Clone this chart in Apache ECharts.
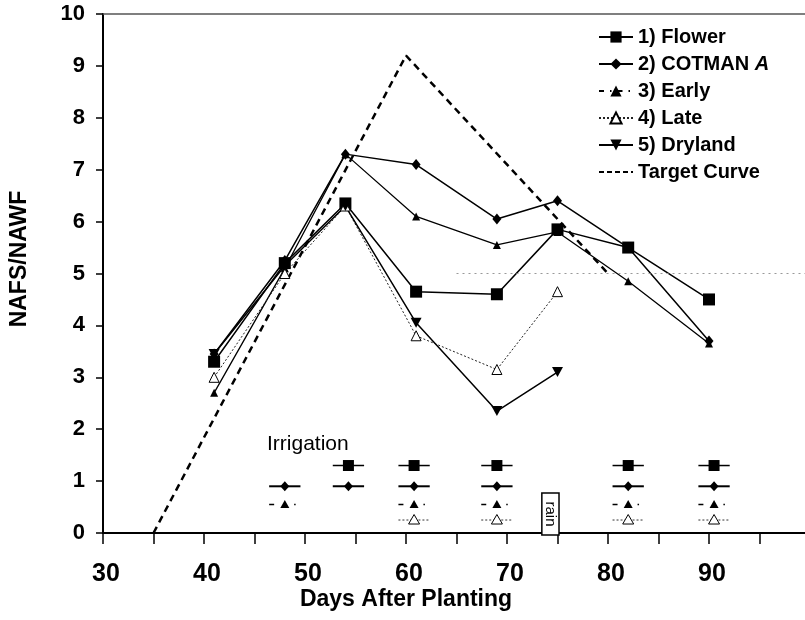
<!DOCTYPE html>
<html>
<head>
<meta charset="utf-8">
<script src="https://cdn.jsdelivr.net/npm/echarts@6/dist/echarts.min.js"></script>
<style>
  html, body { margin: 0; padding: 0; background: #fff; }
  #chart { width: 805px; height: 620px; }
</style>
</head>
<body>
<div id="chart"></div>
<script>
// Sampling days (days after planting) and NAFS/NAWF per treatment
const days = [41, 48, 54, 61, 69, 75, 82, 90];
const flower = [3.3, 5.2, 6.35, 4.65, 4.6, 5.85, 5.5, 4.5];
const cotman = [3.45, 5.25, 7.3, 7.1, 6.05, 6.4, 5.5, 3.7];
const early = [2.7, 5.1, 7.3, 6.1, 5.55, 5.8, 4.85, 3.65];
const late = [3.0, 5.0, 6.3, 3.8, 3.15, 4.65];
const dryland = [3.45, 5.15, 6.3, 4.05, 2.35, 3.1];

// Target curve vertices
const targetDays = [35, 60, 80];
const targetValues = [0, 9.2, 5.0];

// Reference level drawn as a faint dotted line
const refLevel = 5;
const refFrom = 65;

// Irrigation events per treatment, drawn as rows near the bottom
const irrigFlower = [54.3, 60.8, 69, 82, 90.5];
const irrigCotman = [48, 54.3, 60.8, 69, 82, 90.5];
const irrigEarly = [48, 60.8, 69, 82, 90.5];
const irrigLate = [60.8, 69, 82, 90.5];
const irrigRows = [1.3, 0.9, 0.55, 0.25];

// Rain event
const rainDay = 74.3;
const rainTop = 0.77;

// X tick labels
const xTickLabels = [30, 40, 50, 60, 70, 80, 90];

const names = ['1) Flower', '2) COTMAN A', '3) Early', '4) Late', '5) Dryland', 'Target Curve'];

const pair = (xs, ys) => ys.map((v, i) => [xs[i], v]);

const irrigData = [];
[irrigFlower, irrigCotman, irrigEarly, irrigLate].forEach((row, k) => {
  row.forEach(d => irrigData.push([d, irrigRows[k], k]));
});

const FONT = "'Liberation Sans', Arial, sans-serif";
const HALF_SPAN = 1.55; // half length of an irrigation tick, in days

function markerShape(kind, cx, cy) {
  if (kind === 0) {
    return { type: 'rect', shape: { x: cx - 5.5, y: cy - 5.5, width: 11, height: 11 },
             style: { fill: '#000' } };
  }
  if (kind === 1) {
    return { type: 'polygon', shape: { points: [[cx, cy - 5], [cx + 4.5, cy], [cx, cy + 5], [cx - 4.5, cy]] },
             style: { fill: '#000' } };
  }
  if (kind === 2) {
    return { type: 'polygon', shape: { points: [[cx, cy - 4.5], [cx + 4.5, cy + 3.5], [cx - 4.5, cy + 3.5]] },
             style: { fill: '#000' } };
  }
  return { type: 'polygon', shape: { points: [[cx, cy - 5.5], [cx + 5.5, cy + 4], [cx - 5.5, cy + 4]] },
           style: { fill: '#fff', stroke: '#000', lineWidth: 1 } };
}

const rowLine = [
  { lineWidth: 1.5, lineDash: null, stroke: '#000' },
  { lineWidth: 2, lineDash: null, stroke: '#000' },
  { lineWidth: 1.5, lineDash: [5, 20, 1.5, 10], stroke: '#000' },
  { lineWidth: 1, lineDash: [2, 2], stroke: '#333' }
];

function irrigationItem(params, api) {
  const d = api.value(0), lv = api.value(1), k = api.value(2);
  const c = api.coord([d, lv]);
  const a = api.coord([d - HALF_SPAN, lv]);
  const b = api.coord([d + HALF_SPAN, lv]);
  return {
    type: 'group',
    children: [
      { type: 'line', shape: { x1: a[0], y1: a[1], x2: b[0], y2: b[1] },
        style: { stroke: rowLine[k].stroke, lineWidth: rowLine[k].lineWidth, lineDash: rowLine[k].lineDash } },
      markerShape(k, c[0], c[1])
    ]
  };
}

function rainItem(params, api) {
  const d = api.value(0), top = api.value(1);
  const tl = api.coord([d - 0.85, top]);
  const br = api.coord([d + 0.85, 0]);
  const cx = (tl[0] + br[0]) / 2, cy = (tl[1] + br[1]) / 2;
  return {
    type: 'group',
    children: [
      { type: 'rect', shape: { x: tl[0], y: tl[1], width: br[0] - tl[0], height: br[1] - tl[1] + 2 },
        style: { fill: '#fff', stroke: '#000', lineWidth: 1.5 } },
      { type: 'text', x: cx, y: cy + 1, rotation: -Math.PI / 2,
        style: { text: 'rain', font: "15px " + FONT, fill: '#000', align: 'center', verticalAlign: 'middle' } }
    ]
  };
}

const lineBase = { type: 'line', showSymbol: true, animation: false, z: 3 };

const chart = echarts.init(document.getElementById('chart'), null, { renderer: 'canvas' });

chart.setOption({
  animation: false,
  backgroundColor: '#fff',
  grid: { left: 103, top: 14, width: 707, height: 519, containLabel: false, outerBoundsMode: 'none' },
  legend: {
    orient: 'vertical',
    left: 593,
    top: 22,
    itemWidth: 34,
    itemHeight: 14,
    itemGap: 7,
    data: [
      { name: names[0] },
      { name: names[1] },
      { name: names[2], lineStyle: { type: [5, 6, 1.5, 6] } },
      { name: names[3] },
      { name: names[4] },
      { name: names[5], itemStyle: { opacity: 0 }, lineStyle: { type: [5, 3], width: 2 } }
    ],
    formatter: n => n === names[1] ? '2) COTMAN {i|A}' : n,
    textStyle: {
      fontFamily: FONT, fontWeight: 'bold', fontSize: 20, color: '#000', lineHeight: 20,
      rich: { i: { fontFamily: FONT, fontWeight: 'bold', fontStyle: 'italic', fontSize: 20, color: '#000' } }
    }
  },
  xAxis: [
    {
      type: 'value', min: 30, max: 100, interval: 5,
      axisLine: { show: true, onZero: false, lineStyle: { color: '#000', width: 2 } },
      axisTick: { show: true, length: 11, lineStyle: { color: '#000', width: 1.5 } },
      axisLabel: {
        formatter: v => xTickLabels.indexOf(v) >= 0 ? String(v) : '',
        fontFamily: FONT, fontWeight: 'bold', fontSize: 25, color: '#000', margin: 29,
        padding: [0, 0, 0, 6]
      },
      splitLine: { show: false }
    },
    {
      type: 'value', position: 'top', min: 30, max: 100,
      axisLine: { show: true, onZero: false, lineStyle: { color: '#555', width: 1.5 } },
      axisTick: { show: false }, axisLabel: { show: false }, splitLine: { show: false }
    }
  ],
  yAxis: {
    type: 'value', min: 0, max: 10, interval: 1,
    axisLine: { show: true, onZero: false, lineStyle: { color: '#000', width: 2 } },
    axisTick: { show: true, length: 7, lineStyle: { color: '#000', width: 1.5 } },
    axisLabel: { fontFamily: FONT, fontWeight: 'bold', fontSize: 22, color: '#000', margin: 18 },
    splitLine: { show: false }
  },
  graphic: [
    { type: 'text', x: 20, y: 259, rotation: Math.PI / 2,
      style: { text: 'NAFS/NAWF', font: "bold 23px " + FONT, fill: '#000', align: 'center', verticalAlign: 'middle' } },
    { type: 'text', x: 406, y: 600,
      style: { text: 'Days After Planting', font: "bold 23px " + FONT, fill: '#000', align: 'center', verticalAlign: 'middle' } },
    { type: 'text', x: 267, y: 444,
      style: { text: 'Irrigation', font: "21px " + FONT, fill: '#000', align: 'left', verticalAlign: 'middle' } }
  ],
  series: [
    Object.assign({}, lineBase, {
      name: names[0], data: pair(days, flower),
      symbol: 'rect', symbolSize: 12,
      lineStyle: { color: '#000', width: 1.5 }, itemStyle: { color: '#000' }
    }),
    Object.assign({}, lineBase, {
      name: names[1], data: pair(days, cotman),
      symbol: 'diamond', symbolSize: [9, 11],
      lineStyle: { color: '#000', width: 1.5 }, itemStyle: { color: '#000' }
    }),
    Object.assign({}, lineBase, {
      name: names[2], data: pair(days, early),
      symbol: 'triangle', symbolSize: 8,
      lineStyle: { color: '#000', width: 1.3 }, itemStyle: { color: '#000' }
    }),
    Object.assign({}, lineBase, {
      name: names[3], data: pair(days, late),
      symbol: 'triangle', symbolSize: 10,
      lineStyle: { color: '#222', width: 1, type: [2, 2] },
      itemStyle: { color: '#fff', borderColor: '#000', borderWidth: 1 }
    }),
    Object.assign({}, lineBase, {
      name: names[4], data: pair(days, dryland),
      symbol: 'path://M0,0 L10,0 L5,9 Z', symbolSize: [11, 10],
      lineStyle: { color: '#000', width: 1.5 }, itemStyle: { color: '#000' }
    }),
    Object.assign({}, lineBase, {
      name: names[5], data: pair(targetDays, targetValues),
      symbol: 'none', z: 2,
      lineStyle: { color: '#000', width: 2.5, type: [7, 5] },
      itemStyle: { color: '#000' },
      markLine: {
        silent: true, symbol: 'none', animation: false,
        label: { show: false },
        lineStyle: { color: '#999', width: 1, type: [2, 4] },
        data: [[{ coord: [refFrom, refLevel] }, { coord: [100, refLevel] }]]
      }
    }),
    {
      type: 'custom', name: 'irrigation', renderItem: irrigationItem,
      data: irrigData, z: 4, silent: true, animation: false
    },
    {
      type: 'custom', name: 'rain', renderItem: rainItem,
      data: [[rainDay, rainTop]], z: 5, silent: true, animation: false
    }
  ]
});
</script>
</body>
</html>
